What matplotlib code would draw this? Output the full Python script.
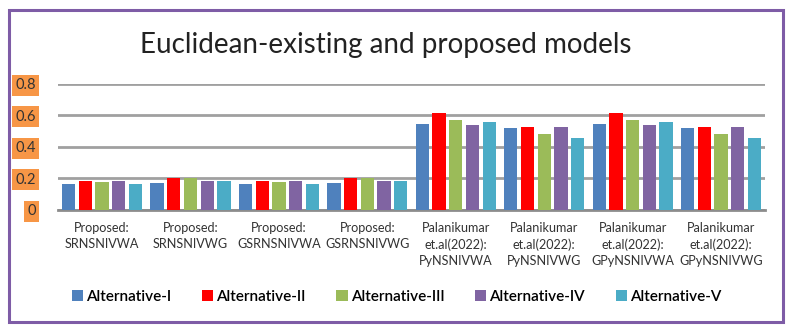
import matplotlib.pyplot as plt
from matplotlib.patches import Rectangle
import numpy as np

plt.rcParams['font.family'] = ['Lato', 'DejaVu Sans']

#%% Data
groups = ['Proposed:\nSRNSNIVWA', 'Proposed:\nSRNSNIVWG', 'Proposed:\nGSRNSNIVWA',
          'Proposed:\nGSRNSNIVWG', 'Palanikumar\net.al(2022):\nPyNSNIVWA',
          'Palanikumar\net.al(2022):\nPyNSNIVWG', 'Palanikumar\net.al(2022):\nGPyNSNIVWA',
          'Palanikumar\net.al(2022):\nGPyNSNIVWG']
series = ['Alternative-I', 'Alternative-II', 'Alternative-III', 'Alternative-IV', 'Alternative-V']
alt1 = [0.163, 0.169, 0.163, 0.169, 0.546, 0.519, 0.546, 0.519]
alt2 = [0.186, 0.201, 0.186, 0.201, 0.618, 0.525, 0.618, 0.525]
alt3 = [0.178, 0.201, 0.178, 0.201, 0.569, 0.483, 0.569, 0.483]
alt4 = [0.182, 0.186, 0.182, 0.186, 0.540, 0.525, 0.540, 0.525]
alt5 = [0.163, 0.186, 0.163, 0.186, 0.559, 0.455, 0.559, 0.455]
yticks = [0, 0.2, 0.4, 0.6, 0.8]
ytick_labels = ['0', '0.2', '0.4', '0.6', '0.8']
colors = ['#4f81bd', '#ff0000', '#9bbb59', '#8064a2', '#4bacc6']

#%% Plot
fig = plt.figure(figsize=(7.93, 3.31), dpi=100)
ax = fig.add_axes([0.073, 0.3656, 0.892, 0.3807])

x = np.arange(len(groups))
step = 0.189
width = 0.15
for i, vals in enumerate([alt1, alt2, alt3, alt4, alt5]):
    ax.bar(x + (i - 2) * step, vals, width, color=colors[i], label=series[i], zorder=3)

ax.set_xlim(-0.5, len(groups) - 0.5)
ax.set_ylim(0, 0.8)
ax.set_yticks(yticks)
ax.set_yticklabels(ytick_labels, fontsize=10.5, color='#333333')
for lbl in ax.get_yticklabels():
    lbl.set_bbox(dict(facecolor='#f79646', edgecolor='none', pad=2.5))
ax.tick_params(axis='y', length=0, pad=16)
ax.set_xticks(x)
ax.set_xticklabels(groups, fontsize=9.1, color='#333333', linespacing=1.4)
ax.tick_params(axis='x', length=0, pad=9)
ax.grid(axis='y', color='#a0a0a0', linewidth=2, zorder=0)
for s in ['top', 'right', 'left']:
    ax.spines[s].set_visible(False)
ax.spines['bottom'].set_color('#8c8c8c')
ax.spines['bottom'].set_linewidth(2)

fig.text(0.487, 0.865, 'Euclidean-existing and proposed models', ha='center', va='center',
         fontsize=20, color='#222222')

fig.legend(loc='center', bbox_to_anchor=(0.5, 0.103), ncol=5, frameon=False,
           handlelength=0.75, handleheight=0.75, handletextpad=0.2,
           columnspacing=2.0, prop={'weight': 'semibold', 'size': 11})

fig.patches.append(Rectangle((0.0115, 0.027), 0.976, 0.943, transform=fig.transFigure,
                             fill=False, edgecolor='#7e5ca6', linewidth=2.2))

fig.savefig('out.png', dpi=100)
